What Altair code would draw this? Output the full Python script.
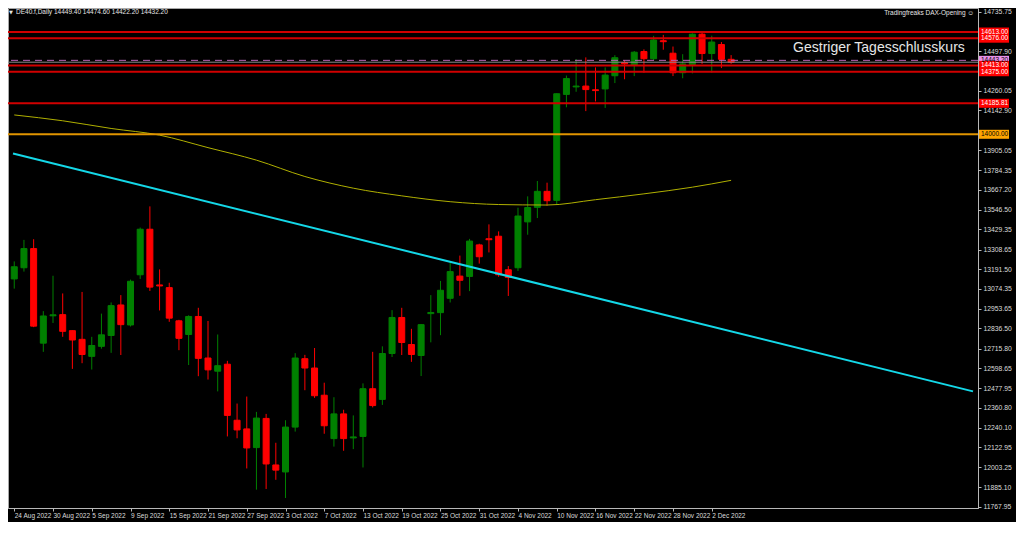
import json
import altair as alt
import pandas as pd

# ---------------- data ----------------
bar_index = list(range(75))
opens = [13133, 13200, 13315, 12748, 12912, 12919, 12823, 12771, 12669, 12729,
         12794, 12977, 12857, 13158, 13431, 13097, 13081, 12882, 12800, 12908,
         12659, 12580, 12622, 12286, 12234, 12122, 12297, 12018, 11976, 12245,
         12655, 12599, 12436, 12176, 12324, 12180, 12189, 12475, 12411, 12686,
         12902, 12740, 12674, 12925, 12931, 13017, 13150, 13148, 13337, 13374,
         13389, 13188, 13200, 13475, 13562, 13658, 13604, 14239, 14284, 14289,
         14267, 14272, 14351, 14430, 14415, 14496, 14453, 14561, 14486, 14369,
         14418, 14600, 14484, 14538, 14449.4]
highs = [13238, 13367, 13371, 12940, 13152, 13046, 12825, 13055, 12786, 12925,
         12992, 13036, 13129, 13441, 13568, 13190, 13110, 12888, 12915, 12960,
         12881, 12800, 12642, 12386, 12428, 12336, 12324, 12151, 12286, 12688,
         12678, 12719, 12511, 12424, 12349, 12315, 12507, 12696, 12729, 12946,
         12960, 12834, 12863, 13036, 13121, 13229, 13273, 13373, 13344, 13460,
         13418, 13210, 13560, 13628, 13720, 13710, 14245, 14352, 14451, 14461,
         14401, 14401, 14474, 14445, 14499, 14509, 14590, 14596, 14526, 14480,
         14605, 14615, 14591, 14553, 14474.6]
lows = [13075, 13177, 12844, 12696, 12869, 12786, 12594, 12628, 12590, 12715,
        12690, 12677, 12848, 13133, 13061, 12944, 12876, 12706, 12617, 12550,
        12530, 12459, 12189, 12178, 11997, 11870, 11874, 11929, 11820, 12218,
        12466, 12420, 12205, 12128, 12103, 12113, 12003, 12363, 12378, 12665,
        12677, 12636, 12551, 12753, 12796, 12992, 13032, 13060, 13225, 13292,
        13146, 13031, 13181, 13398, 13498, 13572, 13581, 14162, 14255, 14139,
        14197, 14158, 14307, 14330, 14349, 14369, 14445, 14507, 14349, 14336,
        14365, 14422, 14369, 14397, 14422.2]
closes = [13206, 13315, 12850, 12911, 12918, 12819, 12767, 12680, 12734, 12798,
          12973, 12859, 13119, 13431, 13084, 13091, 12898, 12777, 12908, 12657,
          12588, 12613, 12315, 12228, 12120, 12299, 12024, 11987, 12245, 12659,
          12599, 12433, 12253, 12324, 12176, 12186, 12475, 12374, 12686, 12902,
          12752, 12680, 12859, 12932, 13065, 13177, 13125, 13360, 13266, 13368,
          13158, 13142, 13510, 13561, 13658, 13602, 14243, 14334, 14289, 14268,
          14262, 14355, 14459, 14422, 14492, 14453, 14565, 14555, 14369, 14422,
          14600, 14484, 14553, 14449.4, 14432.2]

tick_bars = [0, 4, 8, 12, 16, 20, 24, 28, 32, 36, 40, 44, 48, 52, 56, 60, 64, 68, 72]
tick_labels = ["24 Aug 2022", "30 Aug 2022", "5 Sep 2022", "9 Sep 2022", "15 Sep 2022",
               "21 Sep 2022", "27 Sep 2022", "3 Oct 2022", "7 Oct 2022", "13 Oct 2022",
               "19 Oct 2022", "25 Oct 2022", "31 Oct 2022", "4 Nov 2022", "10 Nov 2022",
               "16 Nov 2022", "22 Nov 2022", "28 Nov 2022", "2 Dec 2022"]

y_ticks = [14735.75, 14497.90, 14260.05, 14142.90, 13905.05, 13784.35, 13667.20,
           13546.50, 13429.35, 13308.65, 13191.50, 13074.35, 12953.65, 12836.50,
           12715.80, 12598.65, 12477.95, 12360.80, 12240.10, 12122.95, 12003.25,
           11885.10, 11767.95]

red_levels = [14613.00, 14576.00, 14413.00, 14375.00, 14185.81]
orange_level = [14000.00]
prev_close_level = [14443.20]
bid_level = [14432.20]

ma_bars = [0, 5, 10, 15, 20, 25, 30, 35, 40, 45, 50, 55, 60, 65, 70, 74]
ma_values = [14116, 14081, 14035, 13995, 13920, 13845, 13747, 13677, 13631,
             13596, 13579, 13576, 13608, 13643, 13683, 13724]

trend_bars = [-0.13, 98.97]
trend_values = [13885, 12459]

box_values = [14613.00, 14576.00, 14443.20, 14413.00, 14375.00, 14185.81, 14000.00]
box_texts = ["14613.00", "14576.00", "14443.20", "14413.00", "14375.00", "14185.81", "14000.00"]
box_colors = ["#ff0000", "#ff0000", "#e890e8", "#ff0000", "#ff0000", "#ff0000", "#ffa500"]
box_text_colors = ["#ffffff", "#ffffff", "#000000", "#ffffff", "#ffffff", "#ffffff", "#000000"]

header_text = "DE40.f,Daily  14449.40 14474.60 14422.20 14432.20"
brand_text = "Tradingfreaks DAX-Opening \u263a"
note_text = "Gestriger Tagesschlusskurs"
note_bar = [80.4]
note_value = [14520]

# ---------------- chart ----------------
W, H = 970, 500
FONT = "Liberation Sans"
AX_COL = "#b8b8b8"
LBL_COL = "#dcdcdc"

xs = alt.Scale(domain=[-0.13, 98.97], nice=False, zero=False)
ys = alt.Scale(domain=[11760, 14757], nice=False, zero=False)
cscale = alt.Scale(domain=["up", "down"], range=["#008000", "#ff0000"])

label_expr = json.dumps(tick_labels) + "[round(datum.value / 4)]"

x_axis = alt.Axis(values=tick_bars, labelExpr=label_expr, grid=False,
                  domainColor=AX_COL, tickColor=AX_COL, tickSize=3,
                  labelAlign="left", labelPadding=1, labelFont=FONT,
                  labelFontSize=6.5, labelColor=LBL_COL, labelOverlap=False,
                  labelFlush=False, title="")
y_axis = alt.Axis(values=y_ticks, format=".2f", orient="right", grid=False,
                  domainColor=AX_COL, tickColor=AX_COL, tickSize=3,
                  labelPadding=2, labelFont=FONT, labelFontSize=6.8,
                  labelColor=LBL_COL, labelOverlap=False, labelFlush=False,
                  labelBound=False, title="")


def X(field):
    return alt.X(field, scale=xs, axis=x_axis)


def Y(field):
    return alt.Y(field, scale=ys, axis=y_axis)


candles = pd.DataFrame({"i": bar_index, "open": opens, "high": highs,
                        "low": lows, "close": closes})
candles["dir"] = ["up" if c >= o else "down" for o, c in zip(opens, closes)]

wicks = alt.Chart(candles).mark_rule(strokeWidth=1).encode(
    x=X("i:Q"),
    y=Y("low:Q"),
    y2="high:Q",
    color=alt.Color("dir:N", scale=cscale, legend=None),
)
bodies = alt.Chart(candles).mark_bar(size=6, strokeWidth=1).encode(
    x=X("i:Q"),
    y=Y("open:Q"),
    y2="close:Q",
    color=alt.Color("dir:N", scale=cscale, legend=None),
    stroke=alt.Stroke("dir:N", scale=cscale, legend=None),
)

ma_df = pd.DataFrame({"i": ma_bars, "v": ma_values})
ma_line = alt.Chart(ma_df).mark_line(color="#b0b000", strokeWidth=1,
                                     interpolate="monotone").encode(
    x=X("i:Q"), y=Y("v:Q"))

trend_df = pd.DataFrame({"i": trend_bars, "v": trend_values})
trend_line = alt.Chart(trend_df).mark_line(color="#14d8e8", strokeWidth=2).encode(
    x=X("i:Q"), y=Y("v:Q"))

red_rules = alt.Chart(pd.DataFrame({"v": red_levels})).mark_rule(
    color="#d00000", strokeWidth=2).encode(y=Y("v:Q"))
orange_rule = alt.Chart(pd.DataFrame({"v": orange_level})).mark_rule(
    color="#e09400", strokeWidth=2).encode(y=Y("v:Q"))
bid_rule = alt.Chart(pd.DataFrame({"v": bid_level})).mark_rule(
    color="#8c8c8c", strokeWidth=1).encode(y=Y("v:Q"))
prev_rule = alt.Chart(pd.DataFrame({"v": prev_close_level})).mark_rule(
    color="#b864b8", strokeWidth=1, strokeDash=[7, 5]).encode(y=Y("v:Q"))

note_df = pd.DataFrame({"i": note_bar, "v": note_value, "t": [note_text]})
note = alt.Chart(note_df).mark_text(align="left", baseline="middle", font=FONT,
                                    fontSize=14, color="#e6e6e6").encode(
    x=X("i:Q"), y=Y("v:Q"), text="t:N")

head_df = pd.DataFrame({"t": [header_text]})
header = alt.Chart(head_df).mark_text(align="left", baseline="middle", font=FONT,
                                      fontSize=6.5, color="#e6e6e6").encode(
    x=alt.value(8), y=alt.value(4), text="t:N")
tri = alt.Chart(pd.DataFrame({"t": ["\u25bc"]})).mark_text(
    align="left", baseline="middle", font="DejaVu Sans", fontSize=5,
    color="#e6e6e6").encode(x=alt.value(1), y=alt.value(4), text="t:N")
brand = alt.Chart(pd.DataFrame({"t": [brand_text]})).mark_text(
    align="right", baseline="middle", font=FONT, fontSize=6.5,
    color="#e6e6e6").encode(x=alt.value(966), y=alt.value(5), text="t:N")

box_df = pd.DataFrame({"v": box_values, "t": box_texts, "c": box_colors,
                       "tc": box_text_colors})
boxes = alt.Chart(box_df).mark_point(
    shape="M-1,-0.3L1,-0.3L1,0.3L-1,0.3Z", size=900, filled=True,
    opacity=1, strokeWidth=0).encode(
    x=alt.value(W + 16), y=Y("v:Q"),
    color=alt.Color("c:N", scale=None))
box_lbl = alt.Chart(box_df).mark_text(align="left", baseline="middle", font=FONT,
                                      fontSize=6.5).encode(
    x=alt.value(W + 3), y=Y("v:Q"), text="t:N",
    color=alt.Color("tc:N", scale=None))

chart = alt.layer(
    wicks, bodies, ma_line, trend_line, red_rules, orange_rule, bid_rule,
    prev_rule, note, header, tri, brand, boxes, box_lbl
).properties(
    width=W, height=H,
    background="#000000",
    padding={"left": 0, "top": 0, "right": 38, "bottom": 14},
    autosize=alt.AutoSizeParams(type="none"),
).configure_view(
    fill="#000000", stroke="#a8a8a8", strokeWidth=1
)

chart.save("out.html", embed_options={"renderer": "svg", "actions": False})
